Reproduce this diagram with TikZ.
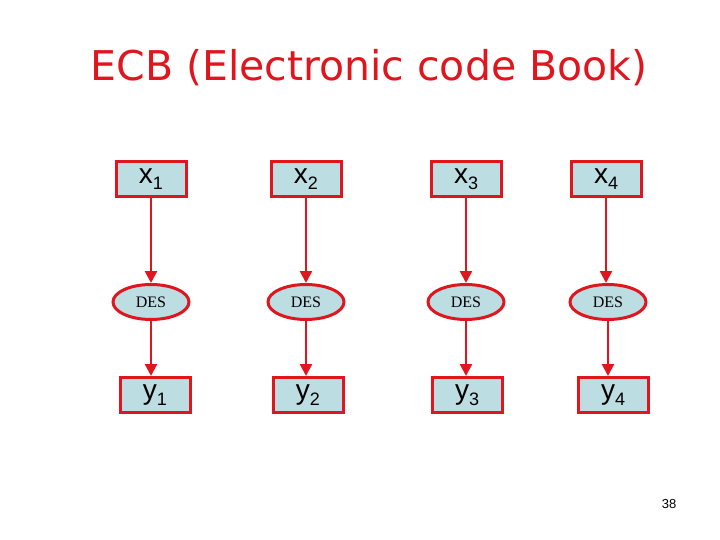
\documentclass[tikz,border=0pt]{standalone}
\usepackage{fontspec}
\setmainfont{Liberation Sans}
\newfontfamily\titlefont{DejaVu Sans}
\newfontfamily\desfont{Liberation Serif}
\usetikzlibrary{shapes.geometric,arrows.meta}
\definecolor{boxfill}{HTML}{BCDDE2}
\definecolor{redline}{HTML}{E0161E}
\newcommand{\sbx}[1]{\raisebox{-6pt}{\fontsize{18}{18}\selectfont #1}}
\tikzset{
 xbox/.style={draw=redline,line width=3pt,fill=boxfill,minimum width=70pt,minimum height=35pt,inner sep=0pt,font=\fontsize{28}{28}\selectfont},
 desnode/.style={ellipse,draw=redline,line width=3pt,fill=boxfill,minimum width=76pt,minimum height=35pt,inner sep=0pt,font=\desfont\fontsize{16}{16}\selectfont},
 conn/.style={draw=redline,line width=2.5pt,-{Triangle[length=12pt,width=12pt]}}
}
\begin{document}
\begin{tikzpicture}[x=1pt,y=-1pt]
\useasboundingbox (0,0) rectangle (720,540);
\node[font=\titlefont\fontsize{41}{41}\selectfont,text=redline] (title) at (369,68) {ECB (Electronic code Book)};
\foreach \i/\xa/\xd/\xy in {1/151/151/155,2/306/306/308,3/466/466/467,4/606/608/613}{
 \node[xbox] (x\i) at (\xa,179) {x\sbx{\i}};
 \node[desnode] (d\i) at (\xd,302) {DES};
 \node[xbox] (y\i) at (\xy,395) {y\sbx{\i}};
 \draw[conn] (x\i.south) -- (x\i.south |- d\i.north);
 \draw[conn] (d\i.south) -- (d\i.south |- y\i.north);
}
\node[font=\fontsize{13}{13}\selectfont] (pg) at (669,504) {38};
\end{tikzpicture}
\end{document}
